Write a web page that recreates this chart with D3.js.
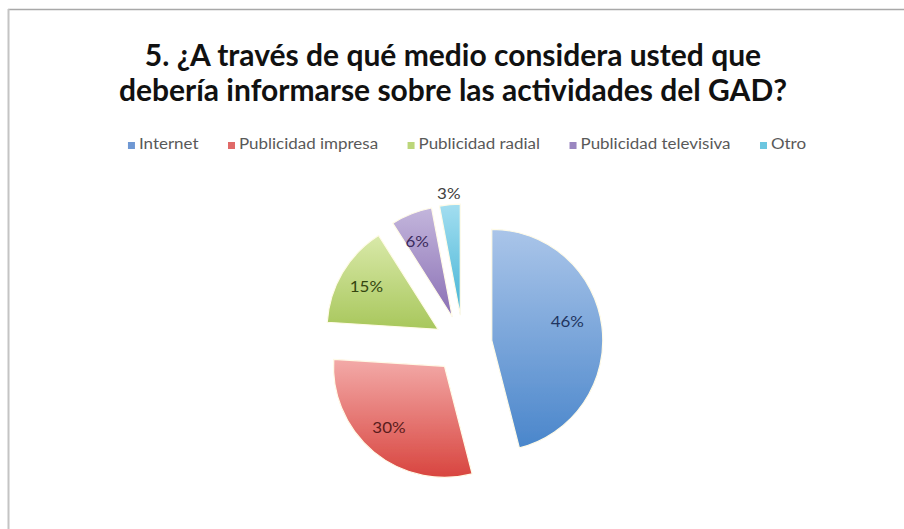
<!DOCTYPE html>
<html>
<head>
<meta charset="utf-8">
<script src="https://cdn.jsdelivr.net/npm/d3@7"></script>
<style>
  html, body { margin: 0; padding: 0; background: #fff; }
  svg { display: block; }
</style>
</head>
<body>
<svg id="chart" width="904" height="529"></svg>
<script>
// Survey answers: preferred channel for news about the GAD
const categories = ["Internet", "Publicidad impresa", "Publicidad radial", "Publicidad televisiva", "Otro"];
const shares = [46, 30, 15, 6, 3];
const titleLines = ["5. ¿A través de qué medio considera usted que", "debería informarse sobre las actividades del GAD?"];

// Slice shading: light top, saturated bottom
const topColors = ["#aac5e9", "#f3aaa8", "#d9e9a9", "#c3b6dc", "#a3def0"];
const bottomColors = ["#4a86cb", "#d8453f", "#a8c75c", "#8a6fb4", "#43b3d5"];
const keyColors = ["#6f98d3", "#e06a68", "#bcd67a", "#9a86c0", "#6cc6e0"];
const labelColors = ["#1f3560", "#5a1c1c", "#34450f", "#3b2a5c", "#404040"];

const svg = d3.select("#chart");
const W = 904, H = 529;
const font = "Lato, 'Open Sans', sans-serif";
const stretch = 1.17; // horizontal stretch for the small text

// frame
svg.append("line").attr("x1", 8).attr("x2", W).attr("y1", 9.5).attr("y2", 9.5)
  .attr("stroke", "#a8a8a8").attr("stroke-width", 1.5);
svg.append("line").attr("x1", 8.5).attr("x2", 8.5).attr("y1", 9).attr("y2", H)
  .attr("stroke", "#c4c4c4").attr("stroke-width", 2);

// title
svg.append("g").selectAll("text").data(titleLines).join("text")
  .attr("x", 453)
  .attr("y", (d, i) => 66 + i * 35)
  .attr("text-anchor", "middle")
  .attr("font-family", font)
  .attr("font-weight", "bold")
  .attr("font-size", 30)
  .attr("fill", "#111")
  .text(d => d);

// legend
const legend = svg.append("g");
const items = legend.selectAll("g").data(categories).join("g");
items.append("rect").attr("width", 7).attr("height", 7).attr("y", -7)
  .attr("fill", (d, i) => keyColors[i]);
items.append("text")
  .attr("transform", `translate(11,0) scale(${stretch},1)`)
  .attr("font-family", font).attr("font-size", 14.5)
  .attr("fill", "#595959").text(d => d);
let lx = 0;
const gap = 29.5;
const offsets = [];
items.each(function () {
  const w = d3.select(this).select("text").node().getComputedTextLength() * stretch + 11;
  offsets.push(lx);
  lx += w + gap;
});
const legendW = lx - gap;
const legendX0 = 467 - legendW / 2;
items.attr("transform", (d, i) => `translate(${legendX0 + offsets[i]},149)`);

// pie
const cx = 463, cy = 344, R = 111, explode = 29;
const pie = d3.pie().sort(null).value(d => d)(shares);
const arc = d3.arc().innerRadius(0).outerRadius(R);

const defs = svg.append("defs");
pie.forEach((p, i) => {
  const gr = defs.append("linearGradient").attr("id", "grad" + i)
    .attr("x1", 0).attr("y1", 0).attr("x2", 0).attr("y2", 1);
  gr.append("stop").attr("offset", "0%").attr("stop-color", topColors[i]);
  gr.append("stop").attr("offset", "100%").attr("stop-color", bottomColors[i]);
});
const soft = defs.append("filter").attr("id", "soft").attr("x", "-10%").attr("y", "-10%")
  .attr("width", "120%").attr("height", "120%");
soft.append("feGaussianBlur").attr("stdDeviation", 0.6);

const slices = svg.append("g").attr("transform", `translate(${cx},${cy})`)
  .selectAll("g").data(pie).join("g")
  .attr("transform", d => {
    const m = (d.startAngle + d.endAngle) / 2;
    return `translate(${explode * Math.sin(m)},${-explode * Math.cos(m)})`;
  });

slices.append("path").attr("d", arc)
  .attr("fill", (d, i) => `url(#grad${i})`)
  .attr("stroke", "#fffbe8").attr("stroke-width", 1.2)
  .attr("filter", "url(#soft)");

// labels sit near each slice's bisector; thin slices get an outside label
const labelAngleShift = [-0.11, 0.04, 0, -0.06, 0];
slices.append("text")
  .attr("transform", (d, i) => {
    const m = (d.startAngle + d.endAngle) / 2 + labelAngleShift[i];
    const rr = d.data < 5 ? R * 1.1 : R * (i === 0 ? 0.7 : 0.75);
    return `translate(${rr * Math.sin(m)},${-rr * Math.cos(m)}) scale(${stretch},1)`;
  })
  .attr("text-anchor", "middle")
  .attr("dy", "0.35em")
  .attr("font-family", font)
  .attr("font-size", 14.5)
  .attr("fill", (d, i) => labelColors[i])
  .text(d => d.data + "%");
</script>
</body>
</html>
